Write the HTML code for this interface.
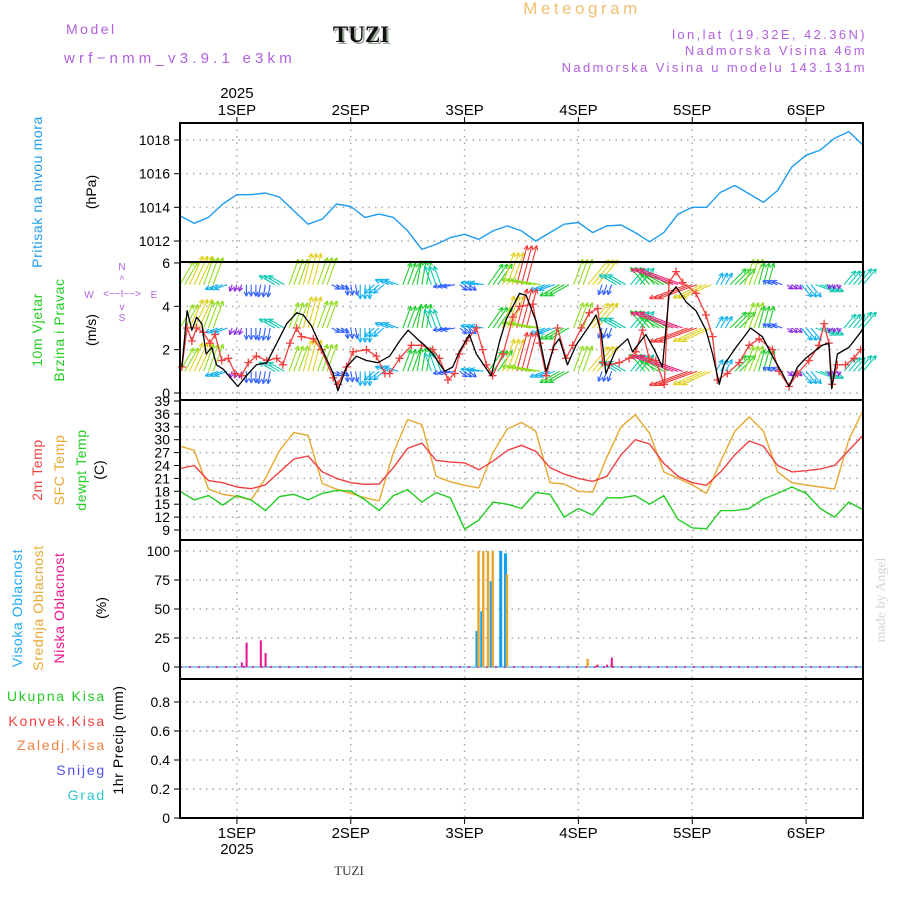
<!DOCTYPE html>
<html><head><meta charset="utf-8"><style>
html,body{margin:0;padding:0;background:#fff;}
svg{display:block;font-family:"Liberation Sans",sans-serif;}
</style></head><body>
<svg id="chart" width="900" height="900" viewBox="0 0 900 900" xmlns="http://www.w3.org/2000/svg">
<rect x="0" y="0" width="900" height="900" fill="#fff"/>
<text x="582" y="14" text-anchor="middle" font-size="17" fill="#f0c070" letter-spacing="3.5">Meteogram</text>
<text x="66" y="34" font-size="14" fill="#b060e0" letter-spacing="2.5">Model</text>
<text x="363" y="44" text-anchor="middle" font-size="23" font-weight="bold" font-family="Liberation Serif,serif" fill="#9a9">TUZI</text>
<text x="361" y="42" text-anchor="middle" font-size="23" font-weight="bold" font-family="Liberation Serif,serif" fill="#111">TUZI</text>
<text x="64" y="63" font-size="15" fill="#b060e0" letter-spacing="4.2">wrf−nmm_v3.9.1  e3km</text>
<text x="867" y="39" text-anchor="end" font-size="13" fill="#b060e0" letter-spacing="2.4">lon,lat (19.32E, 42.36N)</text>
<text x="867" y="55" text-anchor="end" font-size="13" fill="#b060e0" letter-spacing="2.4">Nadmorska Visina 46m</text>
<text x="867" y="72" text-anchor="end" font-size="13" fill="#b060e0" letter-spacing="2.4">Nadmorska Visina u modelu 143.131m</text>
<g id="grid"></g>
<g id="marks"></g>
<g id="axes"></g>
<g id="labels" font-size="14">
<text transform="translate(42,192) rotate(-90)" text-anchor="middle" fill="#1e9cf0" letter-spacing="0.6">Pritisak na nivou mora</text>
<text transform="translate(96,192) rotate(-90)" text-anchor="middle" fill="#000">(hPa)</text>
<text transform="translate(42,330) rotate(-90)" text-anchor="middle" fill="#22cc22" letter-spacing="0.6">10m Vjetar</text>
<text transform="translate(64,330) rotate(-90)" text-anchor="middle" fill="#22cc22" letter-spacing="0.6">Brzina i Pravac</text>
<text transform="translate(96,330) rotate(-90)" text-anchor="middle" fill="#000">(m/s)</text>
<g font-size="10" fill="#b060e0">
<text x="122" y="270" text-anchor="middle">N</text><text x="122" y="283" text-anchor="middle">^</text>
<text x="89" y="298" text-anchor="middle">W</text><text x="122" y="297" text-anchor="middle">&lt;−−I−−&gt;</text><text x="154" y="298" text-anchor="middle">E</text>
<text x="122" y="310" text-anchor="middle">v</text><text x="122" y="321" text-anchor="middle">S</text></g>
<text transform="translate(42,470) rotate(-90)" text-anchor="middle" fill="#f04040" letter-spacing="0.6">2m Temp</text>
<text transform="translate(64,470) rotate(-90)" text-anchor="middle" fill="#e8a830" letter-spacing="0.6">SFC Temp</text>
<text transform="translate(86,470) rotate(-90)" text-anchor="middle" fill="#22cc22" letter-spacing="0.6">dewpt Temp</text>
<text transform="translate(104,470) rotate(-90)" text-anchor="middle" fill="#000">(C)</text>
<text transform="translate(22,608) rotate(-90)" text-anchor="middle" fill="#1eaaf5" letter-spacing="0.6">Visoka Oblacnost</text>
<text transform="translate(43,608) rotate(-90)" text-anchor="middle" fill="#e8a830" letter-spacing="0.6">Srednja Oblacnost</text>
<text transform="translate(64,608) rotate(-90)" text-anchor="middle" fill="#f0108a" letter-spacing="0.6">Niska Oblacnost</text>
<text transform="translate(106,608) rotate(-90)" text-anchor="middle" fill="#000">(%)</text>
<text x="106" y="701" text-anchor="end" fill="#22cc22" letter-spacing="1.8">Ukupna  Kisa</text>
<text x="106" y="726" text-anchor="end" fill="#f04040" letter-spacing="1.8">Konvek.Kisa</text>
<text x="106" y="750" text-anchor="end" fill="#f08040" letter-spacing="1.8">Zaledj.Kisa</text>
<text x="106" y="775" text-anchor="end" fill="#5050f0" letter-spacing="1.8">Snijeg</text>
<text x="106" y="800" text-anchor="end" fill="#30c8c8" letter-spacing="1.8">Grad</text>
<text transform="translate(123,740) rotate(-90)" text-anchor="middle" fill="#000" letter-spacing="0.6">1hr Precip (mm)</text>
<text transform="translate(885,600) rotate(-90)" text-anchor="middle" fill="#d0d8d0" font-family="Liberation Serif,serif">made by Angel</text>
<text x="349" y="875" text-anchor="middle" font-size="13" font-family="Liberation Serif,serif" fill="#333">TUZI</text>
</g>
</svg>
<script>
// ---- data ----
const dayLabels = ["1SEP","2SEP","3SEP","4SEP","5SEP","6SEP"];
const dayHours = [12,36,60,84,108,132];
const stepHours = [0,3,6,9,12,15,18,21,24,27,30,33,36,39,42,45,48,51,54,57,60,63,66,69,72,75,78,81,84,87,90,93,96,99,102,105,108,111,114,117,120,123,126,129,132,135,138,141,144];
const pressure = [1013.5,1013.05,1013.4,1014.2,1014.75,1014.75,1014.85,1014.6,1013.8,1013.0,1013.3,1014.2,1014.05,1013.4,1013.6,1013.4,1012.6,1011.5,1011.8,1012.2,1012.4,1012.1,1012.6,1012.9,1012.6,1012.0,1012.5,1013.0,1013.1,1012.5,1012.9,1012.95,1012.5,1011.95,1012.5,1013.6,1014.0,1014.0,1014.9,1015.3,1014.8,1014.3,1015.0,1016.4,1017.1,1017.4,1018.1,1018.5,1017.7];
const temp2m = [23.3,24,20.5,20,19,18.6,19.5,22.5,25.5,26.2,22.5,21,20,19.6,19.7,23.5,28,29.2,25.2,24.8,24.6,23,25,27.5,28.7,27.3,23.5,22,21,20.3,21.5,26.5,30,29,24.5,21.5,20,19.4,22.5,26.5,29.7,28.5,24,22.5,22.8,23.2,24,27.5,31];
const tempSfc = [28.5,27.5,18.5,17.3,16.8,16,21,27.5,31.7,31,19.8,18.5,17.5,16.5,15.8,27,34.7,33.5,21.5,20.2,19.4,18.8,27,32.5,34,32,20,19.7,18,17.8,26,33,35.8,31.5,22.5,21,19.5,17.5,25,32,35.3,32,22.5,20,19.5,19,18.5,30,36.8];
const dewpt = [18,16,17,14.8,17,16,13.5,16.8,17.3,16,17.5,18.2,18.1,16,13.5,17,18.4,15.5,17.7,16.5,9.2,11.3,15.5,15,14,17.7,17.3,12,14,12.5,16.5,16.5,17,15,17,11.5,9.5,9.3,13.5,13.5,14,16.2,17.5,19,17.5,14,12,15.5,13.7];
const windHours = [0.4,1.5,2.5,3.5,4.6,5.5,6.7,7.7,9.1,12.2,14,16.1,18.3,20.4,22.5,24.6,26,27.7,29.8,32.3,33.3,35.1,37.2,39.3,41.7,44.2,46.3,48.1,50.5,51.6,53.3,55.8,57.5,58.9,61,62.5,65.6,67.4,68.8,71.6,73,75.1,77.2,78.9,80,81.7,83.5,86.3,87.7,88.8,89.8,91.9,94.4,95.4,96.8,98.2,100,101.7,103.1,104.6,106.7,108.8,110.9,112.3,113.7,114.7,117.2,120.3,122.8,124.9,127,128.4,130.2,131.9,135.4,136.8,137.4,138.6,141,143.5,144];
const windSpeed = [1.2,3.8,2.9,3.5,3.2,1.8,2.1,1.3,1.1,0.3,0.8,1.3,1.4,2.3,3.2,3.7,3.6,3.1,2.1,0.9,0.1,1.2,1.7,1.5,1.4,1.7,2.4,2.9,2.4,2.2,1.8,1.0,1.2,1.9,2.7,1.8,0.8,2.4,3.4,4.6,4.5,3.3,1.0,2.2,2.5,1.3,2.2,3.1,3.6,2.8,0.9,2.0,2.5,1.9,2.3,2.7,2.0,1.2,4.5,4.9,4.2,3.8,2.9,1.8,0.4,1.3,2.1,3.0,2.6,1.7,0.9,0.3,1.2,1.6,2.2,2.3,0.2,1.8,2.1,2.8,3.0];
const gustHours = [0.4,1.5,2.5,3.5,4.9,6.3,7.4,8.8,10.2,11.6,13,14.4,16.1,18.3,20.4,21.7,23.2,24.6,25.6,28.1,29.8,32.3,33.3,35.1,36.5,39.3,41.4,43.2,44.2,46.3,48.8,50.9,53.3,54.7,56.5,57.9,58.9,60.4,62.5,63.8,64.6,65.9,68.1,70.2,71.6,74.4,75.8,77.2,78.6,79.6,81.4,82.8,84.6,86.3,88.1,89.1,90.5,92.6,94.7,96.1,97.5,98.9,100.3,102.1,103.1,104.6,106,108.8,110.9,112.3,113.3,115.4,117.9,120,122.1,124.9,126.3,128.4,130.2,132.6,134.7,135.8,136.8,137.5,138.6,140.3,142.1,143.5];
const gustSpeed = [1.2,3.0,2.4,3.0,2.8,2.3,2.7,1.5,1.6,0.9,0.8,1.4,1.7,1.5,1.6,1.3,2.3,3.0,2.6,2.5,2.0,0.7,0.4,1.2,1.9,2.0,1.7,0.9,0.9,1.6,2.2,2.2,2.0,1.6,0.6,0.9,1.8,2.4,3.0,2.0,1.3,0.8,1.8,3.5,4.0,4.1,2.3,0.8,2.0,3.0,1.6,2.2,3.0,3.7,3.9,1.4,1.3,1.4,1.6,1.9,2.9,1.6,1.5,0.4,5.1,5.6,5.1,4.6,3.6,2.6,0.6,0.9,1.4,2.2,2.5,2.0,1.0,0.3,0.9,1.5,2.2,3.2,2.3,0.4,1.3,1.3,1.6,2.0];
const windDir = [30,25,20,250,200,180,190,300,20,15,20,120,170,180,230,290,20,10,340,260,130,280,35,20,15,280,250,240,20,40,200,300,40,320,300,290,250,245,30,45,20,15,290,130,140,110,190,40,40];
const windMag = [3.0,3.5,3.2,1.5,0.8,1.3,1.4,2.0,3.0,3.6,3.2,1.0,1.2,1.6,1.5,1.6,2.6,2.7,2.2,1.4,1.0,1.5,2.8,3.8,4.5,3.3,1.8,2.5,3.0,3.6,1.2,2.2,2.4,2.5,2.5,5.0,4.5,3.5,1.5,2.5,3.0,2.5,1.2,0.8,1.8,2.2,0.5,2.0,2.3];
const cloudHours = [13,14,17,18,63,64,65,66,68,69,86,88,90,91];
const highCloud = [0,0,0,0,31,48,0,74,100,98,0,0,0,0];
const midCloud = [0,0,0,0,100,100,100,100,0,80,7,2,0,2];
const lowCloud = [4,21,23,12,0,0,0,0,0,0,0,2,2,8];
const pTicks = [1012,1014,1016,1018];
const wTicks = [0,2,4,6];
const tTicks = [9,12,15,18,21,24,27,30,33,36,39];
const cTicks = [0,25,50,75,100];
const rTicks = [0,0.2,0.4,0.6,0.8];

// ---- scales ----
const X0=180, X1=863;
const xS = h => X0 + h*(X1-X0)/144;
const yP = p => 241 - (p-1012)*16.83;
const yW = s => 393 - s*21.67;
const yT = t => 530 - (t-9)*4.3;
const yC = c => 667 - c*1.16;
const yR = r => 818 - r*145;
const NS="http://www.w3.org/2000/svg";
function mk(tag, attrs, parent){const e=document.createElementNS(NS,tag);for(const k in attrs)e.setAttribute(k,attrs[k]);parent.appendChild(e);return e;}
const grid=document.getElementById('grid'), marks=document.getElementById('marks'), axes=document.getElementById('axes');
const panels=[{t:123,b:262,n:'pressure'},{t:262,b:400,n:'wind'},{t:400,b:540,n:'temp'},{t:540,b:679,n:'cloud'},{t:679,b:818,n:'precip'}];

panels.forEach(p=>{dayHours.forEach(h=>{
  const l=mk('line',{x1:xS(h),x2:xS(h),y1:p.t,y2:p.b,stroke:'#aaa','stroke-width':1.5,'stroke-dasharray':'1.5,5'},grid);
  
  
});});
function hgrid(ticks, yf, top){
  ticks.forEach(v=>{
    const y=yf(v);
    if(y>top+2){const l=mk('line',{x1:X0,x2:X1,y1:y,y2:y,stroke:'#aaa','stroke-width':1.5,'stroke-dasharray':'1.5,5'},grid);
    
    }
    mk('line',{x1:X0-6,x2:X0,y1:y,y2:y,stroke:'#000','stroke-width':1},axes);
    const t=mk('text',{x:X0-10,y:y+5,'text-anchor':'end','font-size':14,fill:'#000'},axes);
    t.textContent=v;
    
    
  });
}
hgrid(pTicks,yP,123);
hgrid(wTicks,yW,262);
hgrid(tTicks,yT,400);
hgrid(cTicks,yC,540);
hgrid(rTicks,yR,679);

function line(xs, ys, color, w, name){
  const d=xs.map((x,i)=>(i?'L':'M')+x.toFixed(1)+','+ys[i].toFixed(1)).join('');
  const p=mk('path',{d:d,fill:'none',stroke:color,'stroke-width':w,'stroke-linejoin':'round'},marks);
  
  
  return p;
}
line(stepHours.map(xS), pressure.map(yP), '#1e9cf0', 1.4, 'pressure-line');
line(stepHours.map(xS), tempSfc.map(yT), '#e8a830', 1.4, 'sfc-temp-line');
line(stepHours.map(xS), temp2m.map(yT), '#f04040', 1.4, 'temp-2m-line');
line(stepHours.map(xS), dewpt.map(yT), '#22cc22', 1.4, 'dewpoint-line');

function spdColor(s){
  if(s<1)return '#8a2be2'; if(s<1.5)return '#3060ff'; if(s<2)return '#10b0f0'; if(s<2.5)return '#10c8b0';
  if(s<3)return '#20cc30'; if(s<3.5)return '#90dc20'; if(s<4)return '#e0d020'; if(s<4.5)return '#f09020';
  if(s<5)return '#f03838'; return '#f0207a';
}
const rowBase=[5,3,1];
const wg=mk('g',{},marks);
rowBase.forEach(rb=>{
  stepHours.forEach((h,i)=>{
    const a=windDir[i]*Math.PI/180, len=windMag[i]*9;
    const c=spdColor(windMag[i]);
    const g=mk('g',{stroke:c,'stroke-width':1.1,fill:'none'},wg);
    
    
    [-1,0,1].forEach(o=>{
      const hh=h+o; if(hh<0||hh>144)return;
      const x1=xS(hh), y1=yW(rb);
      const x2=x1+Math.sin(a)*len, y2=y1-Math.cos(a)*len;
      mk('line',{x1:x1,y1:y1,x2:x2,y2:y2},g);
      const hl=5, ha=0.45;
      [a+Math.PI-ha,a+Math.PI+ha].forEach(b=>mk('line',{x1:x2,y1:y2,x2:x2+Math.sin(b)*hl,y2:y2-Math.cos(b)*hl},g));
    });
  });
});
line(gustHours.map(xS), gustSpeed.map(yW), '#f04040', 1.3, 'wind-gust-line');
gustHours.forEach((h,i)=>{
  const x=xS(h), y=yW(gustSpeed[i]);
  const p=mk('path',{d:`M${x-4},${y}h8M${x},${y-4}v8`,stroke:'#f04040','stroke-width':1.3},marks);
  
  
});
line(windHours.map(xS), windSpeed.map(yW), '#000', 1.3, 'wind-speed-line');

const bl=mk('line',{x1:X0,x2:X1,y1:yC(0),y2:yC(0),stroke:'#8cc8f0','stroke-width':2},marks);


mk('line',{x1:X0,x2:X1,y1:yC(0),y2:yC(0),stroke:'#f0108a','stroke-width':1.5,'stroke-dasharray':'2,7'},marks);
cloudHours.forEach((h,i)=>{
  const x=xS(h);
  [[highCloud[i],-1.8,3,'#10a0f8','high-cloud-bar'],[midCloud[i],-0.3,2.5,'#e8a830','mid-cloud-bar'],[lowCloud[i],0.2,2,'#f0108a','low-cloud-bar']].forEach(b=>{
    if(b[0]<=0)return;
    const r=mk('rect',{x:x+b[1]-b[2]/2,y:yC(b[0]),width:b[2],height:yC(0)-yC(b[0]),fill:b[3]},marks);
    
    
  });
});

panels.forEach(p=>{
  const r=mk('rect',{x:X0,y:p.t,width:X1-X0,height:p.b-p.t,fill:'none',stroke:'#000','stroke-width':2},axes);
  
  
});
dayHours.forEach((h,i)=>{
  const x=xS(h);
  mk('line',{x1:x,x2:x,y1:117,y2:123,stroke:'#000'},axes);
  mk('line',{x1:x,x2:x,y1:818,y2:824,stroke:'#000'},axes);
  const t=mk('text',{x:x,y:115,'text-anchor':'middle','font-size':15,fill:'#000'},axes);
  t.textContent=dayLabels[i];
  
  
  const b=mk('text',{x:x,y:838,'text-anchor':'middle','font-size':15,fill:'#000'},axes);
  b.textContent=dayLabels[i];
  
  
});
const y1=mk('text',{x:xS(12),y:98,'text-anchor':'middle','font-size':15,fill:'#000'},axes);
y1.textContent='2025';


const y2=mk('text',{x:xS(12),y:854,'text-anchor':'middle','font-size':15,fill:'#000'},axes);
y2.textContent='2025';


</script>
</body></html>
